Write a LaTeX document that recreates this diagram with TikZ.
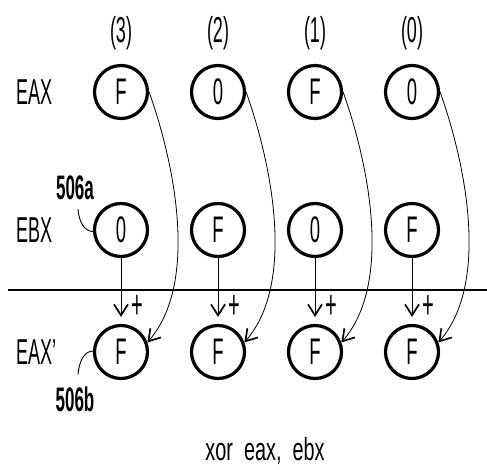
\documentclass[tikz,border=0pt]{standalone}
\usepackage{fontspec}
\setmainfont{Liberation Sans}
\newfontfamily\dfont[FakeStretch=0.5]{Liberation Sans}
\newfontfamily\xfont[FakeStretch=0.62]{Liberation Sans}
\usetikzlibrary{arrows.meta}
\begin{document}
\begin{tikzpicture}[x=1pt,y=-1pt,
  reg/.style={circle,draw,line width=3.2pt,minimum size=53pt,inner sep=0pt,
    font=\dfont\fontsize{37}{37}\selectfont},
  lab/.style={font=\dfont\fontsize{36}{36}\selectfont,inner sep=0pt},
  refno/.style={font=\dfont\bfseries\fontsize{34}{34}\selectfont,inner sep=0pt},
  plus/.style={font=\dfont\fontsize{40}{40}\selectfont,inner sep=0pt},
  flow/.style={line width=0.8pt,-{Straight Barb[length=11pt,width=14pt,line width=1.7pt]}},
  lead/.style={line width=0.9pt},
  sep/.style={line width=2.4pt},
]
\useasboundingbox (0,0) rectangle (487,470);

% row labels
\node[lab,anchor=west] (leax) at (16,92) {EAX};
\node[lab,anchor=west] (lebx) at (16,230) {EBX};
\node[lab,anchor=west] (leaxp) at (16,352) {EAX’};

% bit position labels
\node[lab] (n3) at (121,33) {(3)};
\node[lab] (n2) at (218,33) {(2)};
\node[lab] (n1) at (315,33) {(1)};
\node[lab] (n0) at (412,33) {(0)};

% registers
\node[reg] (a3) at (121,92) {F};
\node[reg] (a2) at (218,92) {0};
\node[reg] (a1) at (315,92) {F};
\node[reg] (a0) at (412,92) {0};

\node[reg] (b3) at (121,230) {0};
\node[reg] (b2) at (218,230) {F};
\node[reg] (b1) at (315,230) {0};
\node[reg] (b0) at (412,230) {F};

\node[reg] (p3) at (121,352) {F};
\node[reg] (p2) at (218,352) {F};
\node[reg] (p1) at (315,352) {F};
\node[reg] (p0) at (412,352) {F};

% separator line
\coordinate (sl) at (8,290);
\coordinate (sr) at (487,290);
\draw[sep] (sl) -- (sr);

% curved arrows EAX -> EAX'
\foreach \i in {3,2,1,0}{
  \draw[flow] (a\i.east) .. controls +(25,70) and +(52,-60) .. (p\i.20);
}

% vertical arrows EBX -> EAX'
\foreach \i in {3,2,1,0}{
  \draw[flow] (b\i.south) -- ([yshift=7pt]p\i.north);
  \node[plus] (plus\i) at ([xshift=16pt,yshift=45pt]p\i.center) {+};
}

% reference numerals
\node[refno] (r506a) at (75,188) {506a};
\node[refno] (r506b) at (75,399) {506b};
\draw[lead] ([shift={(3,9)}]r506a.south) .. controls +(1,12) and +(-9,0) .. (b3.183);
\draw[lead] ([shift={(3,-12)}]r506b.north) .. controls +(1,-12) and +(-9,0) .. (p3.178);

% caption
\node[font=\xfont\fontsize{32}{32}\selectfont,inner sep=0pt] (cap) at (265,451) {xor\ \ eax,\ \ ebx};
\end{tikzpicture}
\end{document}
